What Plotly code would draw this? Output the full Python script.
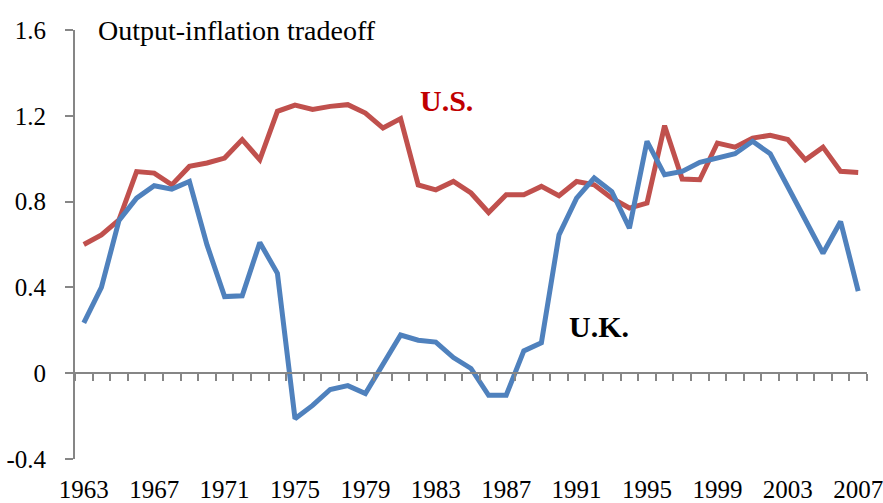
import plotly.graph_objects as go

years = list(range(1963, 2008))
us = [0.60, 0.645, 0.715, 0.94, 0.933, 0.878, 0.964, 0.98, 1.003, 1.089, 0.995, 1.221,
      1.25, 1.23, 1.244, 1.252, 1.213, 1.143, 1.187, 0.878, 0.855, 0.894, 0.84, 0.749,
      0.832, 0.832, 0.871, 0.827, 0.894, 0.878, 0.816, 0.77, 0.793, 1.154, 0.905, 0.902,
      1.073, 1.054, 1.096, 1.109, 1.089, 0.995, 1.054, 0.941, 0.936]
uk = [0.235, 0.40, 0.712, 0.816, 0.874, 0.858, 0.894, 0.598, 0.357, 0.361, 0.609, 0.466,
      -0.212, -0.150, -0.076, -0.058, -0.095, 0.037, 0.178, 0.154, 0.145, 0.073, 0.022, -0.103,
      -0.103, 0.104, 0.142, 0.645, 0.816, 0.91, 0.847, 0.676, 1.081, 0.925, 0.941, 0.983,
      1.003, 1.023, 1.081, 1.023, 0.869, 0.712, 0.559, 0.707, 0.383]
x_labels = list(range(1963, 2008, 4))
y_ticks = [-0.4, 0, 0.4, 0.8, 1.2, 1.6]

FONT = "Liberation Serif"
fig = go.Figure()
fig.add_trace(go.Scatter(x=years, y=us, mode="lines", name="U.S.",
                         line=dict(color="#C0504D", width=5)))
fig.add_trace(go.Scatter(x=years, y=uk, mode="lines", name="U.K.",
                         line=dict(color="#4F81BD", width=5)))
# invisible trace to activate the tick-only x axis
fig.add_trace(go.Scatter(x=[years[0]], y=[0], xaxis="x2", mode="markers",
                         marker=dict(opacity=0), showlegend=False, hoverinfo="skip"))

fig.update_layout(
    width=883, height=503,
    margin=dict(l=75, r=16, t=30, b=44, autoexpand=False),
    paper_bgcolor="white", plot_bgcolor="white",
    showlegend=False,
    font=dict(family=FONT, size=25, color="black"),
    xaxis=dict(range=[1962.5, 2007.5], tickvals=x_labels, ticktext=[str(v) for v in x_labels],
               showgrid=False, zeroline=False, showline=False, automargin=False,
               ticks="outside", ticklen=8, tickcolor="rgba(0,0,0,0)",
               ticklabeloverflow="allow",
               tickfont=dict(family=FONT, size=25)),
    xaxis2=dict(range=[1962.5, 2007.5], overlaying="x", anchor="free", position=0.2,
                tick0=1962.5, dtick=1, showticklabels=False, showgrid=False, zeroline=False,
                showline=True, linecolor="#868686", linewidth=2, automargin=False,
                ticks="outside", ticklen=7, tickcolor="#868686", tickwidth=1.5),
    yaxis=dict(range=[-0.4, 1.6], tickvals=y_ticks, ticktext=["-0.4", "0", "0.4", "0.8", "1.2", "1.6"],
               showgrid=False, zeroline=False, showline=True, linecolor="#868686", linewidth=2,
               ticks="outside", ticklen=8, tickcolor="#868686", tickwidth=1.5, automargin=False,
               ticklabelstandoff=14, tickfont=dict(family=FONT, size=25)),
    annotations=[
        dict(text="Output-inflation tradeoff", xref="paper", yref="paper", x=0.026, y=1.0,
             xanchor="left", yanchor="middle", showarrow=False,
             font=dict(family=FONT, size=28, color="black")),
        dict(text="<b>U.S.</b>", xref="x", yref="y", x=1983.6, y=1.27, showarrow=False,
             xanchor="center", yanchor="middle", font=dict(family=FONT, size=30, color="#C00000")),
        dict(text="<b>U.K.</b>", xref="x", yref="y", x=1992.3, y=0.22, showarrow=False,
             xanchor="center", yanchor="middle", font=dict(family=FONT, size=30, color="black")),
    ],
)

fig.write_html("out.html", config={"displayModeBar": False},
               post_script="document.body.style.margin='0px';document.body.style.overflow='hidden';")
